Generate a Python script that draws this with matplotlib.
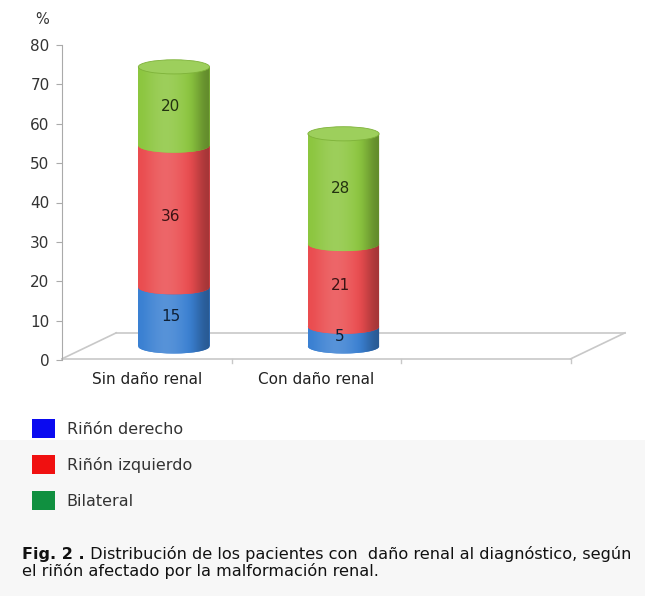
import numpy as np
import matplotlib
matplotlib.use("Agg")
import matplotlib.pyplot as plt
from matplotlib.patches import Rectangle, Ellipse, Polygon, Patch
from matplotlib.colors import to_rgb

# data
categories = ["Sin daño renal", "Con daño renal"]
series_names = ["Riñón derecho", "Riñón izquierdo", "Bilateral"]
derecho = [15, 5]
izquierdo = [36, 21]
bilateral = [20, 28]
y_ticks = [0, 10, 20, 30, 40, 50, 60, 70, 80]

bar_colors = ["#3a80d2", "#ea4c4f", "#8cc63f"]
legend_colors = ["#0a0af0", "#f01010", "#109040"]

# pseudo-3d geometry (in data units)
n_slots = 3
dx, dy = 0.32, 6.9          # floor depth
half_w = 0.21               # cylinder half width
cap_h = 3.6                 # ellipse height


def shade(c, f):
    r, g, b = to_rgb(c)
    if f >= 0:
        return (r + (1 - r) * f, g + (1 - g) * f, b + (1 - b) * f)
    return (r * (1 + f), g * (1 + f), b * (1 + f))


fig = plt.figure(figsize=(6.45, 5.96), dpi=100)
fig.patch.set_facecolor("white")
fig.patches.append(Rectangle((0, 0), 1, 1 - 440 / 596, transform=fig.transFigure,
                             facecolor="#f7f7f7", edgecolor="none", zorder=-10))

ax = fig.add_axes([62 / 645, 1 - 360 / 596, 563 / 645, 315 / 596])
ax.set_xlim(0, n_slots + dx)
ax.set_ylim(0, 80)
ax.set_facecolor("none")
for s in ["top", "right", "bottom"]:
    ax.spines[s].set_visible(False)
ax.spines["left"].set_color("#aaaaaa")
ax.set_yticks(y_ticks)
ax.tick_params(axis="y", length=4, color="#aaaaaa", labelsize=11, labelcolor="#333333", pad=5)
ax.set_xticks([i + 0.5 for i in range(len(categories))])
ax.set_xticklabels(categories, fontsize=11, color="#222222")
ax.tick_params(axis="x", length=0, pad=9)

# floor
floor_col = "#c8c8c8"
ax.plot([0, n_slots], [0.3, 0.3], color=floor_col, lw=1.2, clip_on=False)
ax.plot([dx, n_slots + dx], [dy, dy], color=floor_col, lw=1.2, clip_on=False)
ax.plot([0, dx], [0.3, dy], color=floor_col, lw=1.2, clip_on=False)
ax.plot([n_slots, n_slots + dx], [0.3, dy], color=floor_col, lw=1.2, clip_on=False)
for k in range(1, n_slots + 1):
    ax.plot([k, k], [0.3, -0.8], color=floor_col, lw=1, clip_on=False)

ax.text(-0.12, 86.5, "%", fontsize=10.5, color="#333333", ha="center", va="center")

gradient = [0.0, 0.25, 0.45, 0.55, 0.45, 0.25, 0.0, -0.15, -0.3]

stacks = [derecho, izquierdo, bilateral]
for i in range(len(categories)):
    xc = i + 0.5 + dx / 2
    base = dy / 2
    z = 3
    for j, vals in enumerate(stacks):
        v = vals[i]
        top = base + v
        col = bar_colors[j]
        body = Rectangle((xc - half_w, base), 2 * half_w, v, facecolor=col,
                         edgecolor="none", zorder=z)
        bot = Ellipse((xc, base), 2 * half_w, cap_h, facecolor=col,
                      edgecolor="none", zorder=z)
        ax.add_patch(body)
        ax.add_patch(bot)
        # cylindrical shading
        img = np.array([[shade(col, 0.28 * g) if g >= 0 else shade(col, g) for g in gradient]])
        im = ax.imshow(img, extent=(xc - half_w, xc + half_w, base - cap_h / 2, top),
                       aspect="auto", interpolation="bicubic", zorder=z + 0.5)
        ang = np.linspace(np.pi, 2 * np.pi, 40)
        clip = Polygon(np.vstack([
            [[xc - half_w, top]],
            np.column_stack([xc + half_w * np.cos(ang), base + cap_h / 2 * np.sin(ang)]),
            [[xc + half_w, top]],
        ]), closed=True, transform=ax.transData, facecolor="none", edgecolor="none")
        ax.add_patch(clip)
        im.set_clip_path(clip)
        ax.text(xc - 0.02, base + v / 2, str(v), ha="center", va="center",
                fontsize=11, color=shade(col, -0.75), zorder=100)
        base = top
        z += 3
    # top cap
    cap = Ellipse((xc, base), 2 * half_w, cap_h, facecolor=shade(bar_colors[-1], 0.15),
                  edgecolor=shade(bar_colors[-1], -0.1), lw=0.6, zorder=z)
    ax.add_patch(cap)

ax.set_xlim(0, n_slots + dx)
ax.set_ylim(0, 80)

# legend
handles = [Patch(facecolor=c, edgecolor="none") for c in legend_colors]
leg = fig.legend(handles, series_names, loc="upper left",
                 bbox_to_anchor=(18 / 645, 1 - 405 / 596), frameon=False,
                 fontsize=11.5, handlelength=1.4, handleheight=1.45,
                 labelspacing=1.05, handletextpad=0.75)
for t in leg.get_texts():
    t.set_color("#333333")

# caption
t1 = fig.text(22 / 645, 1 - 559 / 596, "Fig. 2 .", fontsize=11.5, fontweight="bold",
              color="#111111", va="baseline")
ax.annotate(" Distribución de los pacientes con  daño renal al diagnóstico, según",
            xy=(1, 0), xycoords=t1, fontsize=11.6, color="#111111", va="bottom",
            annotation_clip=False)
fig.text(22 / 645, 1 - 576 / 596, "el riñón afectado por la malformación renal.",
         fontsize=11.6, color="#111111", va="baseline")

fig.savefig("out.png", dpi=100, facecolor=fig.get_facecolor())
